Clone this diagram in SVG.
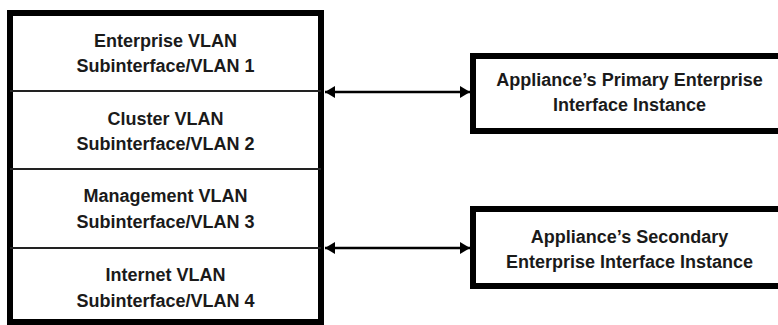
<svg xmlns="http://www.w3.org/2000/svg" width="778" height="325" viewBox="0 0 778 325">
  <defs>
    <style>
      .box { fill: #ffffff; stroke: #000000; stroke-width: 6; }
      .div { stroke: #222222; stroke-width: 2; }
      .lbl { font-family: "Liberation Sans", Arial, sans-serif; font-weight: bold; font-size: 18px; fill: #1a1a1a; text-anchor: middle; }
      .conn { stroke: #000000; stroke-width: 2.5; fill: none; }
    </style>
    <marker id="ah" viewBox="0 0 10 12" refX="10" refY="6" markerWidth="10" markerHeight="12" markerUnits="userSpaceOnUse" orient="auto-start-reverse">
      <path d="M0,0 L10,6 L0,12 Z" fill="#000000"/>
    </marker>
  </defs>
  <rect width="778" height="325" fill="#ffffff"/>

  <g id="vlan-stack">
    <rect class="box" x="10" y="13" width="311" height="309"/>
    <line class="div" x1="10" y1="91" x2="321" y2="91"/>
    <line class="div" x1="10" y1="169" x2="321" y2="169"/>
    <line class="div" x1="10" y1="248" x2="321" y2="248"/>
  </g>
  <g id="vlan1">
    <text class="lbl" x="165.5" y="47">Enterprise VLAN</text>
    <text class="lbl" x="165.5" y="72">Subinterface/VLAN 1</text>
  </g>
  <g id="vlan2">
    <text class="lbl" x="165.5" y="125">Cluster VLAN</text>
    <text class="lbl" x="165.5" y="150">Subinterface/VLAN 2</text>
  </g>
  <g id="vlan3">
    <text class="lbl" x="165.5" y="202">Management VLAN</text>
    <text class="lbl" x="165.5" y="228">Subinterface/VLAN 3</text>
  </g>
  <g id="vlan4">
    <text class="lbl" x="165.5" y="281">Internet VLAN</text>
    <text class="lbl" x="165.5" y="307">Subinterface/VLAN 4</text>
  </g>

  <g id="primary">
    <rect class="box" x="473" y="56" width="314" height="75"/>
    <text class="lbl" x="629.5" y="86">Appliance’s Primary Enterprise</text>
    <text class="lbl" x="629.5" y="111">Interface Instance</text>
  </g>
  <g id="secondary">
    <rect class="box" x="473" y="209" width="314" height="77"/>
    <text class="lbl" x="629.5" y="243">Appliance’s Secondary</text>
    <text class="lbl" x="629.5" y="268">Enterprise Interface Instance</text>
  </g>

  <g id="connectors">
    <line class="conn" x1="325" y1="92" x2="470" y2="92" marker-start="url(#ah)" marker-end="url(#ah)"/>
    <line class="conn" x1="325" y1="248" x2="470" y2="248" marker-start="url(#ah)" marker-end="url(#ah)"/>
  </g>
</svg>
